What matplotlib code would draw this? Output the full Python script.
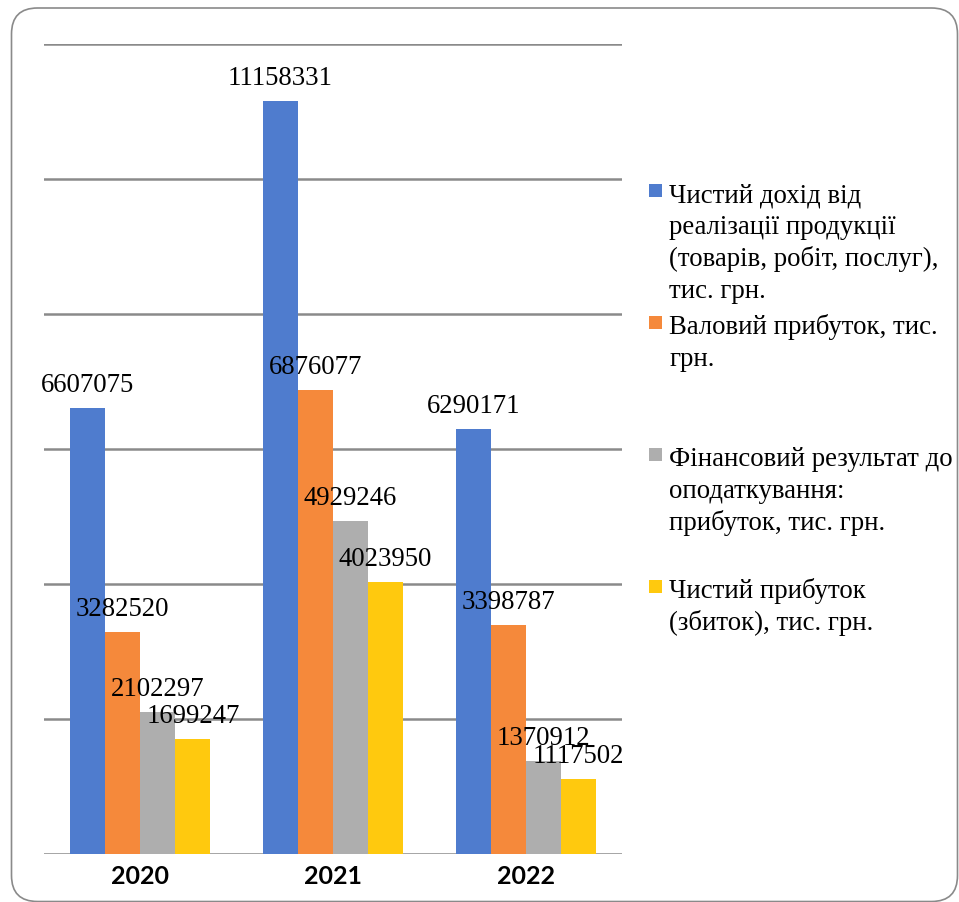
import matplotlib
matplotlib.use("Agg")
import matplotlib.pyplot as plt
from matplotlib.patches import FancyBboxPatch, Rectangle
from matplotlib.transforms import IdentityTransform
import numpy as np

plt.rcParams["font.family"] = "serif"
plt.rcParams["font.serif"] = ["Liberation Serif", "DejaVu Serif"]

# Data (тис. грн)
years = ["2020", "2021", "2022"]
series_names = [
    "Чистий дохід від\nреалізації продукції\n(товарів, робіт, послуг),\nтис. грн.",
    "Валовий прибуток, тис.\nгрн.",
    "Фінансовий результат до\nоподаткування:\nприбуток, тис. грн.",
    "Чистий прибуток\n(збиток), тис. грн.",
]
net_revenue = [6607075, 11158331, 6290171]
gross_profit = [3282520, 6876077, 3398787]
pretax_profit = [2102297, 4929246, 1370912]
net_profit = [1699247, 4023950, 1117502]

colors = ["#4F7CCE", "#F5893B", "#AEAEAE", "#FFC90E"]

W, H = 959, 902
DPI = 100
fig = plt.figure(figsize=(W / DPI, H / DPI), dpi=DPI)

# Plot area in pixel terms
left, right, top, bottom = 44, 622, 44, 854
ax = fig.add_axes([left / W, (H - bottom) / H, (right - left) / W, (bottom - top) / H])

series = [net_revenue, gross_profit, pretax_profit, net_profit]
x = np.arange(len(years))
bw = 0.1816
offsets = (np.arange(len(series)) - 1.5) * bw

for i, vals in enumerate(series):
    ax.bar(x + offsets[i], vals, width=bw, color=colors[i], zorder=2, linewidth=0)

for i, vals in enumerate(series):
    for xi, v in zip(x, vals):
        ax.annotate(f"{v}", (xi + offsets[i], v), xytext=(0, 16),
                    textcoords="offset pixels", ha="center", va="baseline",
                    fontsize=19.3, color="black", zorder=5)

ax.set_xlim(-0.5, 2.5)
ax.set_ylim(0, 12000000)
ax.set_yticks(np.arange(0, 12000001, 2000000))
ax.yaxis.grid(True, color="#8A8A8A", linewidth=1.8, zorder=1)
ax.set_axisbelow(True)
ax.tick_params(axis="y", left=False, labelleft=False)
ax.set_xticks(x)
ax.set_xticklabels(years, fontsize=18, fontweight="bold", family=["Lato", "DejaVu Sans"])
ax.tick_params(axis="x", length=0, pad=8)
for s in ax.spines.values():
    s.set_visible(False)

# Legend drawn as square swatches and wrapped text lines
entry_baselines = [202, 334, 466, 598]
line_step = 32
text_x = 669
for name, col, yb in zip(series_names, colors, entry_baselines):
    fig.add_artist(Rectangle((649 / W, (H - yb + 5) / H), 13 / W, 13 / H,
                             transform=fig.transFigure, color=col, linewidth=0))
    for j, line in enumerate(name.split("\n")):
        fig.text(text_x / W, (H - (yb + j * line_step)) / H, line,
                 fontsize=19.3, ha="left", va="baseline")

# Rounded outer frame
frame = FancyBboxPatch((11.5, 0.5), 946, H - 8.5, boxstyle="round,pad=0,rounding_size=26",
                       transform=IdentityTransform(), facecolor="none",
                       edgecolor="#8A8A8A", linewidth=1.2)
fig.add_artist(frame)

fig.savefig("out.png", dpi=DPI)
